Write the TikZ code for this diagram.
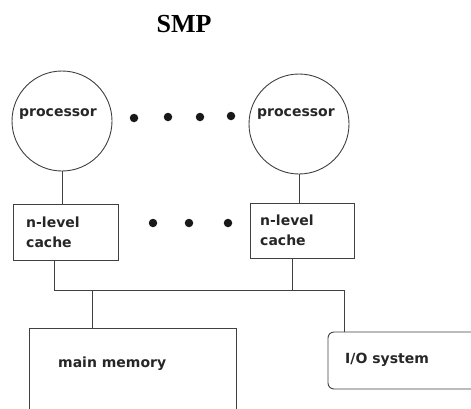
\documentclass[tikz,border=0pt]{standalone}
\usepackage{fontspec}
\setmainfont{DejaVu Sans}
\newfontfamily\titlefont{Liberation Serif}
\begin{document}
\begin{tikzpicture}[x=1pt,y=-1pt,
  wire/.style={draw=black!75,line width=0.9pt},
  proc/.style={circle,draw=black!75,line width=0.9pt,minimum size=100pt,inner sep=0pt},
  box/.style={rectangle,draw=black!75,line width=0.9pt,inner sep=0pt},
  lbl/.style={inner sep=0pt,text=black!85,font=\bfseries\fontsize{14}{16}\selectfont},
  dot/.style={circle,fill=black!90,minimum size=8.5pt,inner sep=0pt}]
\useasboundingbox (0,0) rectangle (471,408);
\clip (0,0) rectangle (471,408);

% title
\node[inner sep=0pt,font=\titlefont\bfseries\fontsize{26}{30}\selectfont] (title) at (184,24) {SMP};

% processors
\node[proc] (p1) at (62,121) {};
\node[proc] (p2) at (299,124) {};
\node[lbl,anchor=base west] (p1t) at (19,116) {processor};
\node[lbl,anchor=base west] (p2t) at (257,116) {processor};
\node[dot] (d1) at (134,118) {};
\node[dot] (d2) at (168,117) {};
\node[dot] (d3) at (200,117) {};
\node[dot] (d4) at (231,116) {};

% caches
\node[box,minimum width=105pt,minimum height=56pt] (c1) at (65.5,232) {};
\node[box,minimum width=104pt,minimum height=55pt] (c2) at (302,230.5) {};
\node[lbl,anchor=base west] (c1a) at (26,227) {n-level};
\node[lbl,anchor=base west] (c1b) at (26,247) {cache};
\node[lbl,anchor=base west] (c2a) at (260,225) {n-level};
\node[lbl,anchor=base west] (c2b) at (260,245) {cache};
\node[dot] (e1) at (153,223) {};
\node[dot] (e2) at (189,223) {};
\node[dot] (e3) at (228,223) {};

% memory and I/O
\node[box,minimum width=207pt,minimum height=100pt] (mem) at (132.5,378) {};
\node[box,rounded corners=6pt,minimum width=152pt,minimum height=57pt] (io) at (404,360.5) {};
\node[lbl,anchor=base west] (memt) at (58,367) {main memory};
\node[lbl,anchor=base west] (iot) at (345,363) {I/O system};

% processor to cache links
\draw[wire] (p1.south) -- (p1.south |- c1.north);
\draw[wire] (p2.south) -- (p2.south |- c2.north);

% shared bus
\coordinate (busL) at (54,290);
\coordinate (busR) at (344,290);
\coordinate (tap2) at (292,290);
\coordinate (tapM) at (92,290);
\draw[wire] (c1.south -| busL) -- (busL) -- (busR) -- (io.north -| busR);
\draw[wire] (c2.south -| tap2) -- (tap2);
\draw[wire] (tapM) -- (mem.north -| tapM);
\end{tikzpicture}
\end{document}
